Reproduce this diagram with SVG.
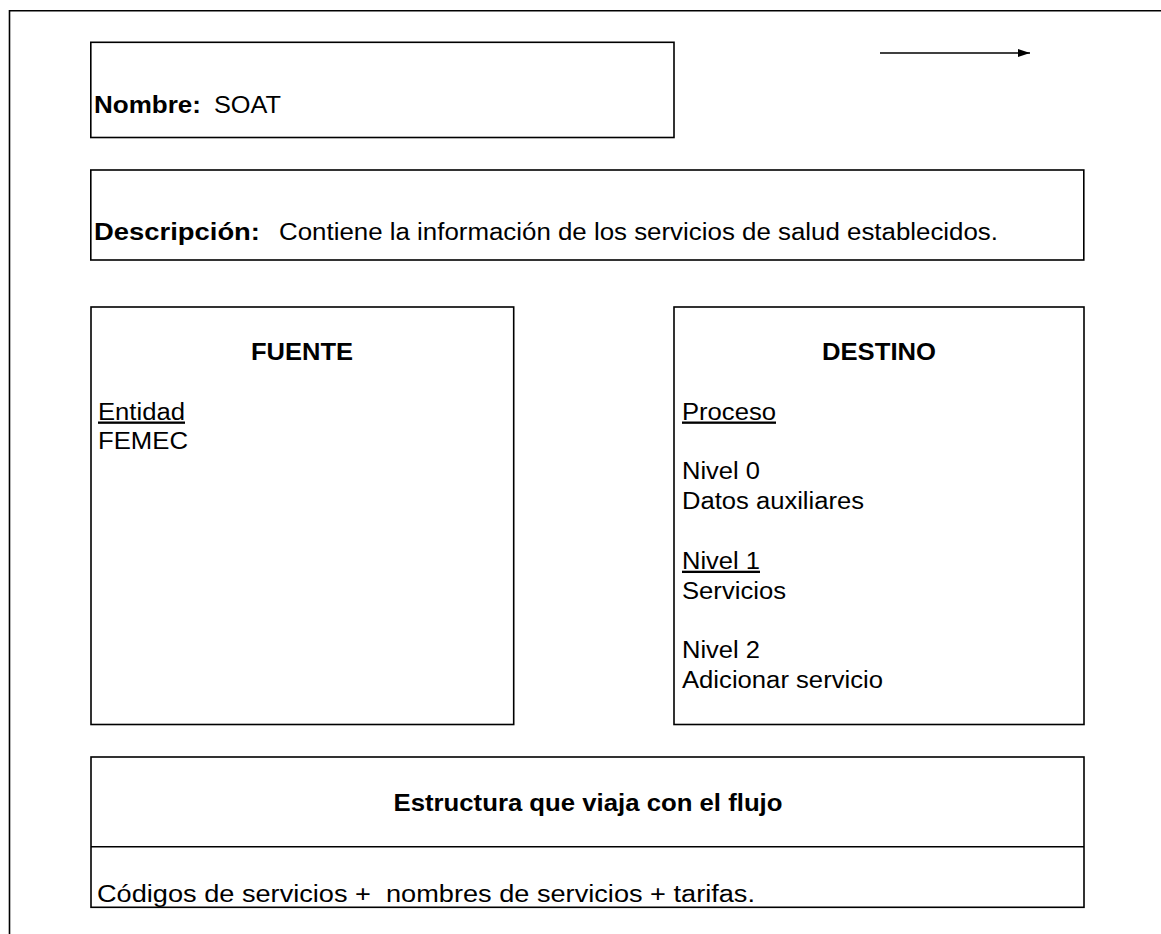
<svg xmlns="http://www.w3.org/2000/svg" width="1161" height="934" viewBox="0 0 1161 934">
<style>
.box{fill:none;stroke:#000;stroke-width:1.6}
.t{font-family:"Liberation Sans",Arial,sans-serif;font-size:23.3px;fill:#000;white-space:pre}
.b{font-weight:bold}
.u{text-decoration:underline}
.conn{stroke:#000;stroke-width:1.6;fill:none}
</style>
<defs>
<marker id="ah" markerUnits="userSpaceOnUse" markerWidth="14" markerHeight="10" refX="12" refY="4" orient="auto">
<path d="M0,0 L12,4 L0,8 z" fill="#000"/>
</marker>
</defs>
<rect width="1161" height="934" fill="#fff"/>
<g id="frame"><path class="box" d="M9.5,934 V10.7 H1161"/></g>
<g id="nombre">
<rect class="box" x="90.8" y="42.3" width="583.2" height="95.2"/>
<text class="t b" x="94" y="113" textLength="107" lengthAdjust="spacingAndGlyphs">Nombre:</text>
<text class="t" x="214" y="113" textLength="67" lengthAdjust="spacingAndGlyphs">SOAT</text>
</g>
<g id="descripcion">
<rect class="box" x="90.8" y="170" width="993" height="90"/>
<text class="t b" x="94" y="240" textLength="166" lengthAdjust="spacingAndGlyphs">Descripción:</text>
<text class="t" x="279" y="240" textLength="719" lengthAdjust="spacingAndGlyphs">Contiene la información de los servicios de salud establecidos.</text>
</g>
<g id="fuente">
<rect class="box" x="91" y="307" width="422.7" height="417.5"/>
<text class="t b" x="302" y="360" text-anchor="middle" textLength="102" lengthAdjust="spacingAndGlyphs">FUENTE</text>
<text class="t u" x="98" y="419.5" textLength="87" lengthAdjust="spacingAndGlyphs">Entidad</text>
<text class="t" x="98" y="449.3" textLength="90" lengthAdjust="spacingAndGlyphs">FEMEC</text>
</g>
<g id="destino">
<rect class="box" x="674" y="307" width="410" height="417.5"/>
<text class="t b" x="879" y="360" text-anchor="middle" textLength="114" lengthAdjust="spacingAndGlyphs">DESTINO</text>
<text class="t u" x="682" y="419.5" textLength="94" lengthAdjust="spacingAndGlyphs">Proceso</text>
<text class="t" x="682" y="479.2" textLength="78" lengthAdjust="spacingAndGlyphs">Nivel 0</text>
<text class="t" x="682" y="509" textLength="182" lengthAdjust="spacingAndGlyphs">Datos auxiliares</text>
<text class="t u" x="682" y="568.7" textLength="78" lengthAdjust="spacingAndGlyphs">Nivel 1</text>
<text class="t" x="682" y="598.5" textLength="104" lengthAdjust="spacingAndGlyphs">Servicios</text>
<text class="t" x="682" y="658.2" textLength="78" lengthAdjust="spacingAndGlyphs">Nivel 2</text>
<text class="t" x="682" y="688" textLength="201" lengthAdjust="spacingAndGlyphs">Adicionar servicio</text>
</g>
<g id="estructura">
<rect class="box" x="91" y="757" width="993" height="150.3"/>
<line class="conn" x1="91" y1="846.8" x2="1084" y2="846.8"/>
<text class="t b" x="588" y="811" text-anchor="middle" textLength="389" lengthAdjust="spacingAndGlyphs">Estructura que viaja con el flujo</text>
<text class="t" x="97" y="902" textLength="658" lengthAdjust="spacingAndGlyphs" xml:space="preserve">Códigos de servicios +  nombres de servicios + tarifas.</text>
</g>
<g id="connectors">
<line class="conn" x1="880" y1="53" x2="1030" y2="53" marker-end="url(#ah)"/>
</g>
</svg>
